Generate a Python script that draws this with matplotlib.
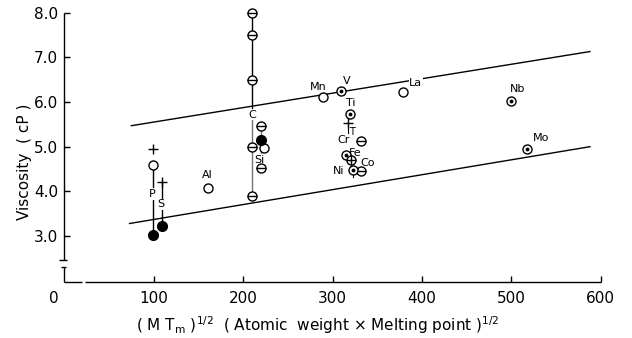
"""Viscosity of liquid iron alloys vs (M Tm)^1/2"""

import matplotlib.pyplot as plt

# Open circles: P, Al, Si, Mn, La
open_x = [99, 161, 223, 289, 379]
open_y = [4.60, 4.07, 4.96, 6.12, 6.23]

# Circles with a bar: C column, Si, Cr / Co
bar_x = [210, 210, 210, 210, 210, 220, 220, 332, 332]
bar_y = [8.0, 7.5, 6.5, 5.0, 3.9, 5.46, 4.52, 5.12, 4.45]

# Circles with a dot: V, Ti, Cr, Ni, Nb, Mo
dot_x = [310, 320, 315, 323, 500, 518]
dot_y = [6.25, 5.73, 4.81, 4.48, 6.02, 4.95]

# Circle with a cross: Fe
cross_x = [321]
cross_y = [4.70]

# Solid circles: P, S, Si
solid_x = [99, 109, 220]
solid_y = [3.02, 3.23, 5.16]

# Plus marks: P, S, Ti
plus_x = [99, 109, 317]
plus_y = [4.94, 4.21, 5.54]

# Vertical ranges (black, then grey)
range_x = [99, 109, 210]
range_top = [4.60, 4.21, 8.0]
range_bottom = [3.02, 3.23, 5.72]
grey_range_x = [210, 220]
grey_range_top = [5.72, 5.46]
grey_range_bottom = [3.9, 4.52]

# Element labels
labels = ['P', 'S', 'Al', 'C', 'Si', 'Mn', 'V', 'Ti', 'Cr', 'Fe', 'Co', 'Ni', 'La', 'Nb', 'Mo']
label_x = [98, 108, 160, 210, 218, 284, 316, 320, 312, 325, 339, 307, 393, 507, 533]
label_y = [3.94, 3.71, 4.36, 5.72, 4.71, 6.33, 6.48, 5.98, 5.15, 4.86, 4.64, 4.46, 6.43, 6.30, 5.19]

# Upper and lower bounding lines
upper_x = [75, 588]
upper_y = [5.47, 7.13]
lower_x = [73, 588]
lower_y = [3.28, 5.00]

x_ticks = [100, 200, 300, 400, 500, 600]
y_ticks = [3.0, 4.0, 5.0, 6.0, 7.0, 8.0]

# Broken-axis geometry
y_bottom = 1.977
y_break = [2.46, 2.31]
x_break = [19.5, 23.2]

fig = plt.figure(figsize=(6.32, 3.38), dpi=100)
ax = fig.add_axes([64.3 / 632, (338 - 281.7) / 338, 536.4 / 632, 269 / 338])
ax.set_xlim(0, 600)
ax.set_ylim(y_bottom, 8.0)
for s in ax.spines.values():
    s.set_visible(False)

# Axes drawn by hand so they can be broken
axis_kw = dict(color='k', lw=1.0, clip_on=False, solid_capstyle='butt')
ax.plot([0, 0], [8.0, y_break[0]], **axis_kw)
ax.plot([0, 0], [y_break[1], y_bottom], **axis_kw)
ax.plot([-5.5, 2.7], [y_break[0], y_break[0]], **axis_kw)
ax.plot([-4.0, 2.0], [y_break[1], y_break[1]], **axis_kw)
ax.plot([0, x_break[0]], [y_bottom, y_bottom], **axis_kw)
ax.plot([x_break[1], 600], [y_bottom, y_bottom], **axis_kw)

ax.set_xticks(x_ticks)
ax.set_xticklabels([str(t) for t in x_ticks])
ax.set_yticks(y_ticks)
ax.set_yticklabels([f'{t:.1f}' for t in y_ticks])
ax.tick_params(axis='both', direction='in', length=4, width=1.0, labelsize=11)
ax.tick_params(axis='x', pad=7)
ax.tick_params(axis='y', pad=4.5)
# origin label sits left of the y axis, on the tick-label row
ax.text(-12, 1.61, '0', fontsize=11, ha='center', va='center')

# Bounding lines
ax.plot(upper_x, upper_y, color='k', lw=1.0, zorder=2)
ax.plot(lower_x, lower_y, color='k', lw=1.0, zorder=2)

# Vertical ranges
for x, t, b in zip(range_x, range_top, range_bottom):
    ax.plot([x, x], [t, b], color='k', lw=1.0, zorder=2)
for x, t, b in zip(grey_range_x, grey_range_top, grey_range_bottom):
    ax.plot([x, x], [t, b], color='0.45', lw=1.0, zorder=2)
ax.plot([317, 317], [5.46, 5.30], color='k', lw=0.8, zorder=2)
ax.plot([323, 323], [4.40, 4.32], color='k', lw=0.8, zorder=2)

# Markers
mk = dict(linestyle='none', zorder=5, clip_on=False)
ax.plot(open_x, open_y, 'o', ms=6.5, mfc='white', mec='k', mew=1.0, **mk)
ax.plot(bar_x, bar_y, 'o', ms=6.5, mfc='white', mec='k', mew=1.0, **mk)
ax.plot(bar_x, bar_y, '_', ms=6.5, mec='k', mew=1.0, **mk)
ax.plot(dot_x, dot_y, 'o', ms=6.5, mfc='white', mec='k', mew=1.0, **mk)
ax.plot(dot_x, dot_y, '.', ms=3.5, color='k', **mk)
ax.plot(cross_x, cross_y, 'o', ms=6.5, mfc='white', mec='k', mew=1.0, **mk)
ax.plot(cross_x, cross_y, '+', ms=6.5, mec='k', mew=1.0, **mk)
ax.plot(solid_x, solid_y, 'o', ms=7, color='k', **mk)
ax.plot(plus_x, plus_y, '+', ms=7, mec='k', mew=1.0, **mk)

# Element labels, white box hides the lines behind them
for name, x, y in zip(labels, label_x, label_y):
    ax.text(x, y, name, fontsize=8, ha='center', va='center', zorder=3,
            bbox=dict(boxstyle='square,pad=0.05', fc='white', ec='none'))
ax.text(321.5, 5.34, 'T', fontsize=7, ha='center', va='center', zorder=3)

# Axis titles
fig.text(25 / 632, 1 - 162 / 338, 'Viscosity  ( cP )', rotation=90,
         fontsize=11, ha='center', va='center')
fig.text(318 / 632, 1 - 325 / 338,
         r'( M T$_{\rm m}$ )$^{1/2}$  ( Atomic  weight $\times$ Melting point )$^{1/2}$',
         fontsize=11, ha='center', va='center')

plt.savefig('out.png', dpi=100)
